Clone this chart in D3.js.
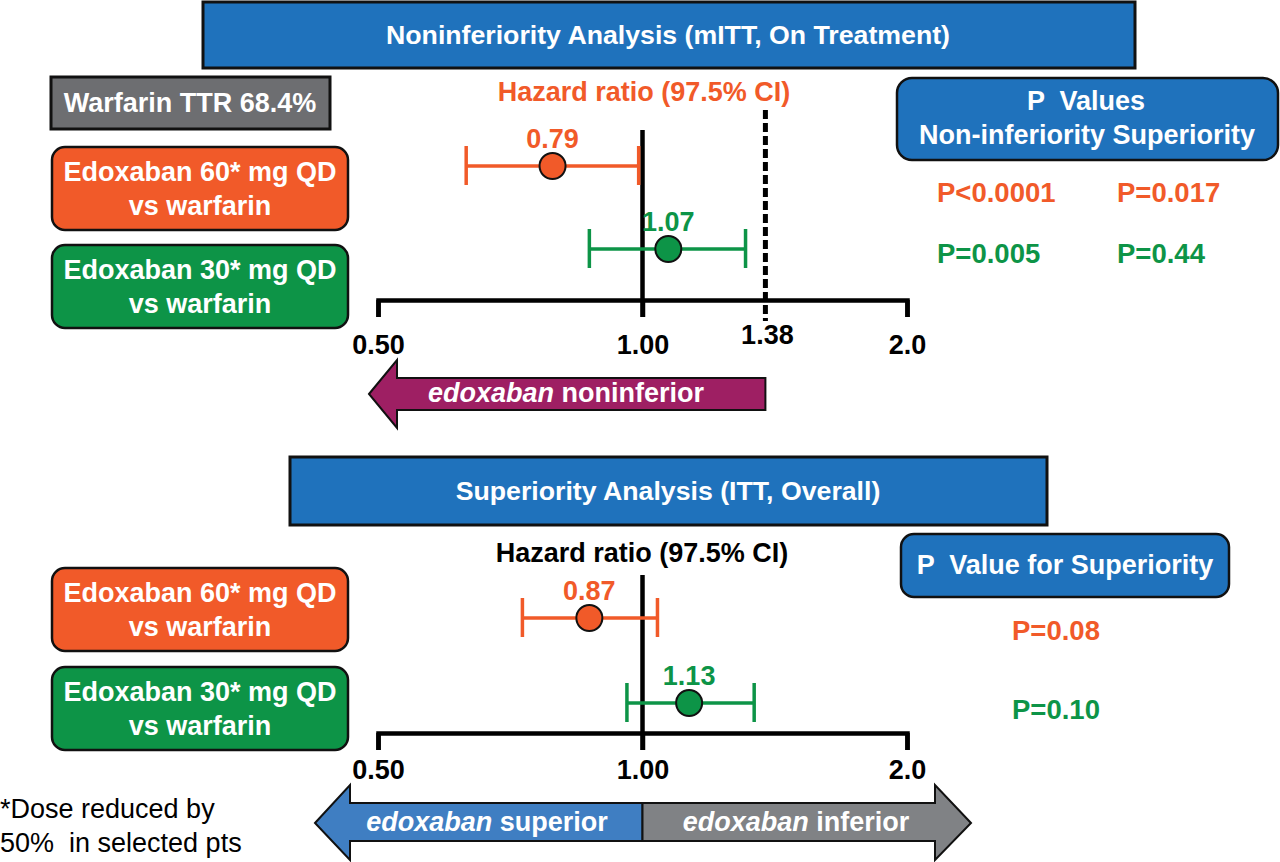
<!DOCTYPE html>
<html>
<head>
<meta charset="utf-8">
<script src="https://cdn.jsdelivr.net/npm/d3@7"></script>
<style>
  html, body { margin: 0; padding: 0; background: #fff; }
  svg { display: block; font-family: "Liberation Sans", Arial, Helvetica, sans-serif; }
</style>
</head>
<body>
<svg id="chart" width="1280" height="862"></svg>
<script>
// ---------------- data ----------------
const groupLines = [["Edoxaban 60* mg QD", "vs warfarin"], ["Edoxaban 30* mg QD", "vs warfarin"]];
const nonInfHR = [0.79, 1.07];
const nonInfLo = [0.63, 0.87];
const nonInfHi = [0.99, 1.31];
const supHR = [0.87, 1.13];
const supLo = [0.73, 0.96];
const supHi = [1.04, 1.34];
const nonInfMargin = 1.38;
const tickValues = [0.5, 1, 2];
const tickLabels = ["0.50", "1.00", "2.0"];
const pNonInf = ["P<0.0001", "P=0.005"];
const pSupTop = ["P=0.017", "P=0.44"];
const pSupBottom = ["P=0.08", "P=0.10"];
const warfarinTTR = "Warfarin TTR 68.4%";

// ---------------- styles ----------------
const ORANGE = "#f15a29", GREEN = "#0d9447", BLUE = "#1f72bc", PURPLE = "#9e1f63",
      GREYBOX = "#6d6e71", ARROWBLUE = "#3f7ec2", ARROWGREY = "#808285";
const groupColors = [ORANGE, GREEN];
const FS = 27;

const svg = d3.select("#chart");
const x = d3.scaleLog().domain([0.5, 2]).range([378, 907]);

function txt(g, s, xx, yy, opt = {}) {
  const t = g.append("text").attr("x", xx).attr("y", yy)
    .attr("text-anchor", opt.anchor || "middle")
    .attr("font-size", opt.size || FS)
    .attr("font-weight", opt.weight || "bold")
    .attr("fill", opt.fill || "#000")
    .text(s);
  if (opt.pre) t.style("white-space", "pre");
  return t;
}

// ---------------- headers ----------------
svg.append("rect").attr("x", 203).attr("y", 2).attr("width", 932).attr("height", 66)
  .attr("fill", BLUE).attr("stroke", "#111").attr("stroke-width", 3);
txt(svg, "Noninferiority Analysis (mITT, On Treatment)", 668, 44, {fill: "#fff", size: 26.7});

svg.append("rect").attr("x", 290).attr("y", 457).attr("width", 757).attr("height", 68)
  .attr("fill", BLUE).attr("stroke", "#111").attr("stroke-width", 3);
txt(svg, "Superiority Analysis (ITT, Overall)", 668, 500, {fill: "#fff", size: 26.7});

// ---------------- left label boxes ----------------
svg.append("rect").attr("x", 51).attr("y", 77).attr("width", 279).attr("height", 52)
  .attr("fill", GREYBOX).attr("stroke", "#111").attr("stroke-width", 3);
txt(svg, warfarinTTR, 190, 112, {fill: "#fff"});

function labelBoxes(tops) {
  groupLines.forEach((lines, i) => {
    const y0 = tops[i];
    svg.append("rect").attr("x", 52).attr("y", y0).attr("width", 296).attr("height", 83)
      .attr("rx", 13).attr("fill", groupColors[i]).attr("stroke", "#111").attr("stroke-width", 2.5);
    txt(svg, lines[0], 200, y0 + 34, {fill: "#fff"});
    txt(svg, lines[1], 200, y0 + 68, {fill: "#fff"});
  });
}
labelBoxes([147, 245]);
labelBoxes([568, 667]);

// ---------------- forest panel ----------------
function panel(cfg) {
  const g = svg.append("g");
  g.append("line").attr("x1", x(1)).attr("x2", x(1)).attr("y1", cfg.refTop).attr("y2", cfg.axisY + 17)
    .attr("stroke", "#000").attr("stroke-width", 4.5);
  const axis = d3.axisBottom(x).tickValues(tickValues)
    .tickFormat((d, i) => tickLabels[i]).tickSize(17).tickSizeOuter(17).tickPadding(cfg.pad);
  const ag = g.append("g").attr("transform", `translate(0,${cfg.axisY})`).call(axis);
  ag.select(".domain").attr("stroke", "#000").attr("stroke-width", 4.5).attr("fill", "none");
  ag.selectAll(".tick line").attr("stroke", "#000").attr("stroke-width", 4.5);
  ag.selectAll(".tick text").attr("font-size", FS).attr("font-weight", "bold")
    .attr("font-family", "'Liberation Sans', Arial, sans-serif").attr("fill", "#000");

  cfg.hr.forEach((v, i) => {
    const y = cfg.rows[i], c = groupColors[i];
    g.append("line").attr("x1", x(cfg.lo[i])).attr("x2", x(cfg.hi[i])).attr("y1", y).attr("y2", y)
      .attr("stroke", c).attr("stroke-width", 3.5);
    [cfg.lo[i], cfg.hi[i]].forEach(e => {
      g.append("line").attr("x1", x(e)).attr("x2", x(e)).attr("y1", y - 20).attr("y2", y + 19)
        .attr("stroke", c).attr("stroke-width", 3.5);
    });
    g.append("circle").attr("cx", x(v)).attr("cy", y).attr("r", 13)
      .attr("fill", c).attr("stroke", "#111").attr("stroke-width", 2);
    txt(g, v.toFixed(2), x(v), y - 18, {fill: c});
  });
  return g;
}

// top panel
txt(svg, "Hazard ratio (97.5% CI)", 644, 101, {fill: ORANGE});
svg.append("line").attr("x1", x(nonInfMargin)).attr("x2", x(nonInfMargin)).attr("y1", 110).attr("y2", 321)
  .attr("stroke", "#000").attr("stroke-width", 5).attr("stroke-dasharray", "9,4");
panel({axisY: 300, refTop: 130, pad: 18, rows: [166, 249], hr: nonInfHR, lo: nonInfLo, hi: nonInfHi});
txt(svg, nonInfMargin.toFixed(2), x(nonInfMargin) + 2, 344);

// purple arrow (noninferior region)
{
  const xr = x(nonInfMargin), tip = 369, hb = 397;
  const pts = [[tip, 394], [hb, 360], [hb, 378], [xr, 378], [xr, 410], [hb, 410], [hb, 428]];
  svg.append("path").attr("d", d3.line()(pts) + "Z").attr("fill", PURPLE)
    .attr("stroke", "#111").attr("stroke-width", 2);
  const t = svg.append("text").attr("x", 566).attr("y", 402).attr("text-anchor", "middle")
    .attr("font-size", FS).attr("font-weight", "bold").attr("fill", "#fff");
  t.append("tspan").attr("font-style", "italic").text("edoxaban");
  t.append("tspan").text(" noninferior");
}

// bottom panel
txt(svg, "Hazard ratio (97.5% CI)", 642, 562, {fill: "#000"});
panel({axisY: 733, refTop: 575, pad: 10, rows: [618, 703], hr: supHR, lo: supLo, hi: supHi});

// bottom arrows
{
  const xm = x(1);
  const blue = [[315, 823], [350, 785], [350, 803], [xm, 803], [xm, 841], [350, 841], [350, 860]];
  const grey = [[971, 823], [935, 785], [935, 803], [xm, 803], [xm, 841], [935, 841], [935, 860]];
  svg.append("path").attr("d", d3.line()(blue) + "Z").attr("fill", ARROWBLUE)
    .attr("stroke", "#111").attr("stroke-width", 2);
  svg.append("path").attr("d", d3.line()(grey) + "Z").attr("fill", ARROWGREY)
    .attr("stroke", "#111").attr("stroke-width", 2);
  const t1 = svg.append("text").attr("x", 487).attr("y", 831).attr("text-anchor", "middle")
    .attr("font-size", FS).attr("font-weight", "bold").attr("fill", "#fff");
  t1.append("tspan").attr("font-style", "italic").text("edoxaban");
  t1.append("tspan").text(" superior");
  const t2 = svg.append("text").attr("x", 796).attr("y", 831).attr("text-anchor", "middle")
    .attr("font-size", FS).attr("font-weight", "bold").attr("fill", "#fff");
  t2.append("tspan").attr("font-style", "italic").text("edoxaban");
  t2.append("tspan").text(" inferior");
}

// ---------------- P value boxes ----------------
svg.append("rect").attr("x", 897).attr("y", 78).attr("width", 381).attr("height", 82).attr("rx", 15)
  .attr("fill", BLUE).attr("stroke", "#111").attr("stroke-width", 2.5);
txt(svg, "P  Values", 1086, 110, {fill: "#fff", pre: true});
txt(svg, "Non-inferiority Superiority", 1087, 144, {fill: "#fff"});
pNonInf.forEach((p, i) => txt(svg, p, 937, [202, 263][i], {anchor: "start", size: 27.5, fill: groupColors[i]}));
pSupTop.forEach((p, i) => txt(svg, p, 1117, [202, 263][i], {anchor: "start", size: 27.5, fill: groupColors[i]}));

svg.append("rect").attr("x", 901).attr("y", 534).attr("width", 328).attr("height", 63).attr("rx", 13)
  .attr("fill", BLUE).attr("stroke", "#111").attr("stroke-width", 2.5);
txt(svg, "P  Value for Superiority", 1065, 574, {fill: "#fff", pre: true});
pSupBottom.forEach((p, i) => txt(svg, p, 1012, [640, 719][i], {anchor: "start", size: 27.5, fill: groupColors[i]}));

// ---------------- footnote ----------------
txt(svg, "*Dose reduced by", 0, 818, {anchor: "start", size: 27, weight: "normal"});
txt(svg, "50%  in selected pts", 0, 852, {anchor: "start", size: 27, weight: "normal", pre: true});
</script>
</body>
</html>
